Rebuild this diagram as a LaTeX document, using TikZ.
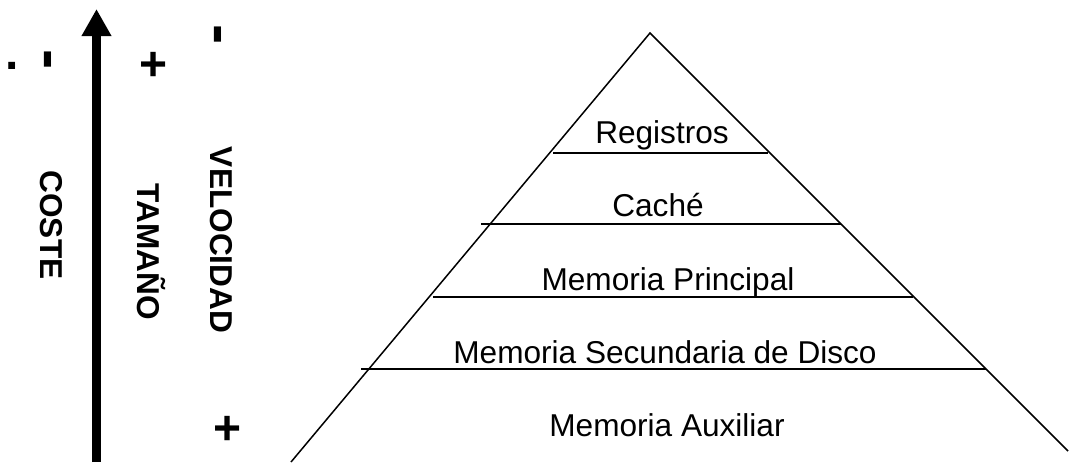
\documentclass[tikz,border=0pt]{standalone}
\usepackage{fontspec}
\setmainfont{Liberation Sans}
\usetikzlibrary{arrows.meta}

\begin{document}
\begin{tikzpicture}[x=0.5pt,y=-0.5pt]
    \tikzstyle{side}=[draw,line width=.75pt,black]
    \tikzstyle{level}=[draw,line width=1pt,black]
    \tikzstyle{nivel}=[inner sep=0pt,anchor=base,font=\fontsize{15.8}{19}\selectfont]
    \tikzstyle{eje}=[inner sep=0pt,anchor=base,rotate=-90,font=\fontsize{15.8}{19}\selectfont\bfseries]
    \tikzstyle{signo}=[inner sep=0pt,font=\fontsize{24}{28}\selectfont\bfseries]
    \tikzstyle{raya}=[inner sep=0pt,rotate=90,font=\fontsize{30}{34}\selectfont\bfseries]
    \useasboundingbox (0,0) rectangle (1069,462);
    % flecha
    \coordinate (abajo) at (96.5,462);
    \coordinate (arriba) at (96.5,9);
    \draw[line width=4.5pt,-{Triangle[width=14pt,length=13.5pt]}] (abajo) -- (arriba);
    % piramide
    \coordinate (cima) at (650,33);
    \coordinate (izq) at (291,462);
    \coordinate (der) at (1068,451);
    \draw[side] (izq) -- (cima) -- (der);
    \draw[level] (553,153) -- (768,153);
    \draw[level] (481,224) -- (841,224);
    \draw[level] (433,297) -- (913,297);
    \draw[level] (361,369) -- (986,369);
    \node[nivel] (reg) at (662,143) {Registros};
    \node[nivel] (cache) at (658,216) {Caché};
    \node[nivel] (princ) at (668,290) {Memoria Principal};
    \node[nivel] (secund) at (665,363) {Memoria Secundaria de Disco};
    \node[nivel] (aux) at (667,436) {Memoria Auxiliar};
    % etiquetas
    \node[eje] (coste) at (40,225) {COSTE};
    \node[eje] (tamano) at (137,252) {TAMAÑO};
    \node[eje] (veloc) at (210,240) {VELOCIDAD};
    \node[signo] (punto) at (12,66) {.};
    \node[raya] (menosc) at (54,60) {-};
    \node[signo] (masT) at (154,66) {+};
    \node[raya] (menosV) at (224,35) {-};
    \node[signo] (masV) at (228,430) {+};
\end{tikzpicture}
\end{document}
